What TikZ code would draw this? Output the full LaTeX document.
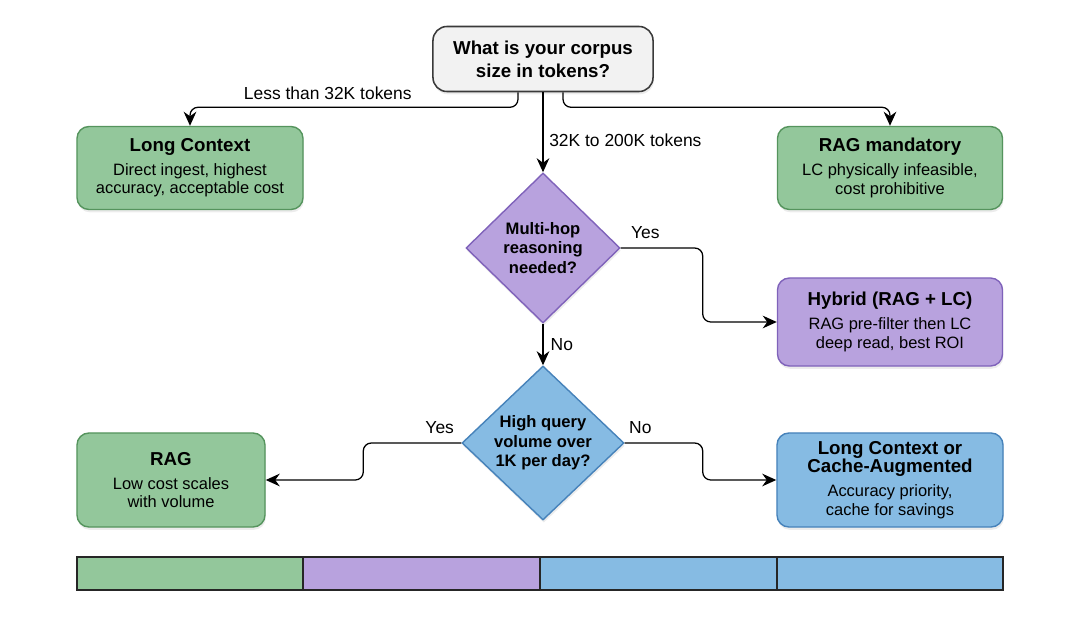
\documentclass[tikz,border=0pt]{standalone}
\usepackage{fontspec}
\setmainfont{Liberation Sans}
\usetikzlibrary{positioning,shapes.geometric,arrows.meta,shadows}

\definecolor{gfill}{HTML}{93C79B}
\definecolor{gline}{HTML}{55945D}
\definecolor{pfill}{HTML}{B8A2DE}
\definecolor{pline}{HTML}{7F62BA}
\definecolor{bfill}{HTML}{86BBE3}
\definecolor{bline}{HTML}{4682BA}
\definecolor{qfill}{HTML}{F2F2F2}
\definecolor{qline}{HTML}{3A3A3A}

\newcommand{\ttl}{\fontsize{13.3}{16}\selectfont\bfseries}

\begin{document}
\begin{tikzpicture}[x=0.025cm, y=-0.025cm,
    box/.style={draw, line width=1pt, rounded corners=0.3cm, align=center, inner sep=0pt,
        font=\fontsize{11.7}{13}\selectfont,
        drop shadow={opacity=0.15, shadow xshift=0.6pt, shadow yshift=-2pt}},
    gbox/.style={box, fill=gfill, draw=gline},
    pbox/.style={box, fill=pfill, draw=pline},
    bbox/.style={box, fill=bfill, draw=bline},
    qbox/.style={box, fill=qfill, draw=qline, line width=1.1pt, rounded corners=0.35cm,
        font=\fontsize{13.3}{16.4}\selectfont\bfseries},
    decision/.style={diamond, aspect=1, draw, line width=1pt, align=center, inner sep=0pt,
        font=\fontsize{11.8}{13.9}\selectfont\bfseries,
        drop shadow={opacity=0.15, shadow xshift=0.6pt, shadow yshift=-2pt}},
    flow/.style={draw, line width=0.9pt, rounded corners=0.2cm, -{Stealth[length=10pt, width=9pt]}},
    lbl/.style={font=\fontsize{12.4}{14}\selectfont, inner sep=1pt},
    bar/.style={draw=black!85, line width=0.8pt}
]
\useasboundingbox (0,0) rectangle (1080,617);

% Question
\node[qbox, minimum width=5.5cm, minimum height=1.625cm] (query) at (543,59)
    {What is your corpus\\size in tokens?};

% Outcomes of the first split
\node[gbox, minimum width=5.65cm, minimum height=2.075cm] (lc) at (190,168)
    {{\ttl Long Context}\\[4pt]Direct ingest, highest\\accuracy, acceptable cost};
\node[gbox, minimum width=5.625cm, minimum height=2.075cm] (ragm) at (890,168)
    {{\ttl RAG mandatory}\\[4pt]LC physically infeasible,\\cost prohibitive};

% Multi-hop decision
\node[decision, fill=pfill, draw=pline, minimum width=3.85cm, minimum height=3.75cm] (hop) at (543,248)
    {Multi-hop\\reasoning\\needed?};
\node[pbox, minimum width=5.625cm, minimum height=2.2cm] (hybrid) at (890,322)
    {{\ttl Hybrid (RAG + LC)}\\[4pt]RAG pre-filter then LC\\deep read, best ROI};

% Query volume decision
\node[decision, fill=bfill, draw=bline, minimum width=4.05cm, minimum height=3.85cm] (vol) at (543,443)
    {High query\\volume over\\1K per day?};
\node[gbox, minimum width=4.7cm, minimum height=2.35cm] (rag) at (171,480)
    {{\ttl RAG}\\[4pt]Low cost scales\\with volume};
\node[bbox, minimum width=5.65cm, minimum height=2.35cm] (lcc) at (890,480)
    {{\ttl Long Context or}\\{\ttl Cache-Augmented}\\[4pt]Accuracy priority,\\cache for savings};

% Connectors
\draw[flow] ([xshift=-0.625cm]query.south) -- ++(0,15)
    -| node[lbl, pos=0.29, above=4pt] {Less than 32K tokens} (lc.north);
\draw[flow] (query.south) -- node[lbl, right=3pt, pos=0.6] {32K to 200K tokens} (hop.north);
\draw[flow] ([xshift=0.5cm]query.south) -- ++(0,15) -| (ragm.north);
\draw[flow] (hop.east) -- node[lbl, pos=0.3, above=5pt] {Yes} ++(82,0) |- (hybrid.west);
\draw[flow] (hop.south) -- node[lbl, right=4pt] {No} (vol.north);
\draw[flow] (vol.west) -- node[lbl, pos=0.22, above=5pt] {Yes} ++(-98,0) |- (rag.east);
\draw[flow] (vol.east) -- node[lbl, pos=0.2, above=5pt] {No} ++(78,0) |- (lcc.west);

% Legend bar
\draw[bar, fill=gfill] (77,557) rectangle (303,590);
\draw[bar, fill=pfill] (303,557) rectangle (540,590);
\draw[bar, fill=bfill] (540,557) rectangle (777,590);
\draw[bar, fill=bfill] (777,557) rectangle (1003,590);

\end{tikzpicture}
\end{document}
